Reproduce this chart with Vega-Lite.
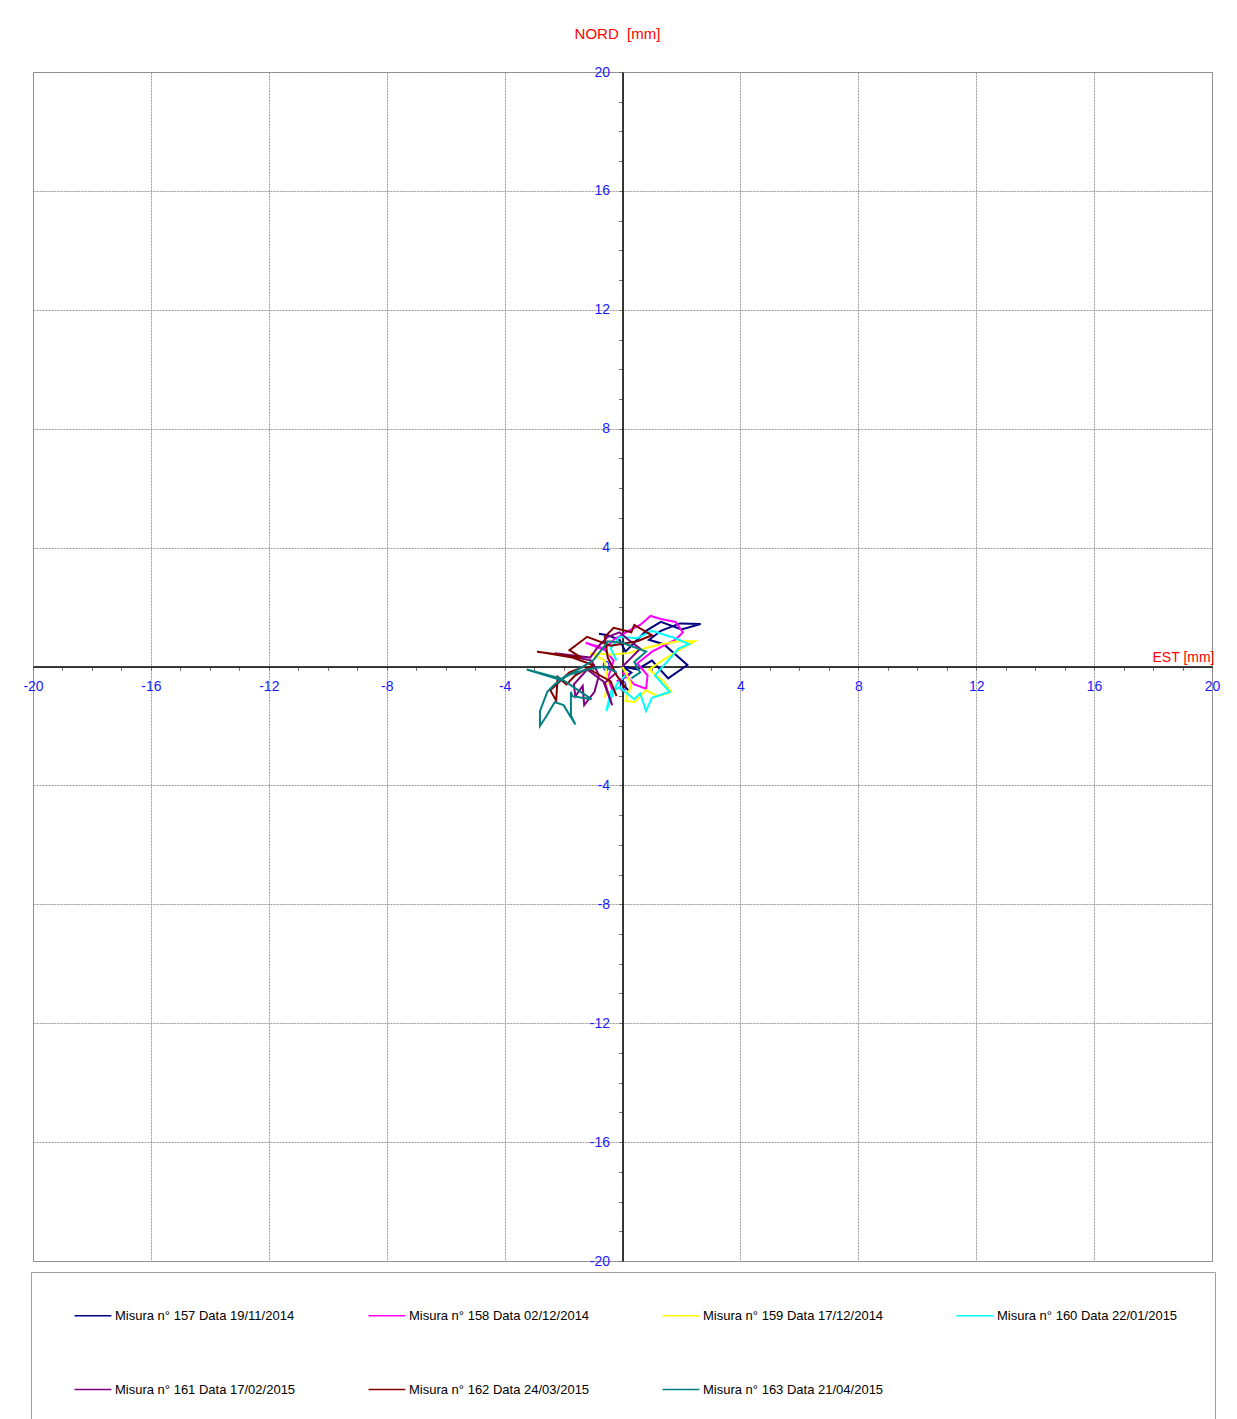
{
  "$schema": "https://vega.github.io/schema/vega-lite/v6.json",
  "autosize": "none",
  "width": 1179,
  "height": 1189,
  "padding": {"left": 33, "top": 72, "right": 25, "bottom": 158},
  "background": "white",
  "title": {"text": "NORD\u00a0 [mm]", "color": "#ff0000", "font": "Liberation Sans", "fontSize": 15, "fontWeight": "normal", "anchor": "middle", "offset": 23, "dx": -5},
  "config": {"view": {"stroke": "#808080", "strokeWidth": 1}},
  "data": {"values": [
    {"m": "Misura n° 157 Data 19/11/2014", "o": 0, "x": 0.2, "y": -0.8},
    {"m": "Misura n° 157 Data 19/11/2014", "o": 1, "x": -0.1, "y": -0.5},
    {"m": "Misura n° 157 Data 19/11/2014", "o": 2, "x": 0.3, "y": -0.2},
    {"m": "Misura n° 157 Data 19/11/2014", "o": 3, "x": 0.0, "y": 0.0},
    {"m": "Misura n° 157 Data 19/11/2014", "o": 4, "x": 0.5, "y": -0.1},
    {"m": "Misura n° 157 Data 19/11/2014", "o": 5, "x": 1.0, "y": 0.2},
    {"m": "Misura n° 157 Data 19/11/2014", "o": 6, "x": 1.55, "y": -0.4},
    {"m": "Misura n° 157 Data 19/11/2014", "o": 7, "x": 2.2, "y": 0.05},
    {"m": "Misura n° 157 Data 19/11/2014", "o": 8, "x": 1.4, "y": 0.75},
    {"m": "Misura n° 157 Data 19/11/2014", "o": 9, "x": 0.9, "y": 0.9},
    {"m": "Misura n° 157 Data 19/11/2014", "o": 10, "x": 1.3, "y": 1.2},
    {"m": "Misura n° 157 Data 19/11/2014", "o": 11, "x": 1.95, "y": 1.45},
    {"m": "Misura n° 157 Data 19/11/2014", "o": 12, "x": 2.65, "y": 1.43},
    {"m": "Misura n° 157 Data 19/11/2014", "o": 13, "x": 2.0, "y": 1.25},
    {"m": "Misura n° 157 Data 19/11/2014", "o": 14, "x": 1.3, "y": 1.5},
    {"m": "Misura n° 157 Data 19/11/2014", "o": 15, "x": 0.8, "y": 1.2},
    {"m": "Misura n° 157 Data 19/11/2014", "o": 16, "x": 0.45, "y": 0.85},
    {"m": "Misura n° 157 Data 19/11/2014", "o": 17, "x": 0.1, "y": 0.5},
    {"m": "Misura n° 157 Data 19/11/2014", "o": 18, "x": -0.1, "y": 0.9},
    {"m": "Misura n° 157 Data 19/11/2014", "o": 19, "x": -0.5, "y": 1.05},
    {"m": "Misura n° 157 Data 19/11/2014", "o": 20, "x": -0.8, "y": 1.1},

    {"m": "Misura n° 158 Data 02/12/2014", "o": 0, "x": -0.2, "y": -0.5},
    {"m": "Misura n° 158 Data 02/12/2014", "o": 1, "x": 0.2, "y": -0.3},
    {"m": "Misura n° 158 Data 02/12/2014", "o": 2, "x": 0.0, "y": -0.2},
    {"m": "Misura n° 158 Data 02/12/2014", "o": 3, "x": 0.4, "y": -0.6},
    {"m": "Misura n° 158 Data 02/12/2014", "o": 4, "x": 0.8, "y": -0.75},
    {"m": "Misura n° 158 Data 02/12/2014", "o": 5, "x": 0.85, "y": -0.3},
    {"m": "Misura n° 158 Data 02/12/2014", "o": 6, "x": 0.5, "y": 0.1},
    {"m": "Misura n° 158 Data 02/12/2014", "o": 7, "x": 1.0, "y": 0.5},
    {"m": "Misura n° 158 Data 02/12/2014", "o": 8, "x": 1.8, "y": 0.9},
    {"m": "Misura n° 158 Data 02/12/2014", "o": 9, "x": 2.05, "y": 1.15},
    {"m": "Misura n° 158 Data 02/12/2014", "o": 10, "x": 1.8, "y": 1.5},
    {"m": "Misura n° 158 Data 02/12/2014", "o": 11, "x": 1.3, "y": 1.6},
    {"m": "Misura n° 158 Data 02/12/2014", "o": 12, "x": 0.95, "y": 1.7},
    {"m": "Misura n° 158 Data 02/12/2014", "o": 13, "x": 0.6, "y": 1.4},
    {"m": "Misura n° 158 Data 02/12/2014", "o": 14, "x": 0.2, "y": 1.2},
    {"m": "Misura n° 158 Data 02/12/2014", "o": 15, "x": -0.3, "y": 0.9},
    {"m": "Misura n° 158 Data 02/12/2014", "o": 16, "x": -0.6, "y": 0.6},
    {"m": "Misura n° 158 Data 02/12/2014", "o": 17, "x": -1.25, "y": 0.8},
    {"m": "Misura n° 158 Data 02/12/2014", "o": 18, "x": -0.6, "y": 0.55},
    {"m": "Misura n° 158 Data 02/12/2014", "o": 19, "x": -0.3, "y": 0.2},
    {"m": "Misura n° 158 Data 02/12/2014", "o": 20, "x": -0.5, "y": -0.4},
    {"m": "Misura n° 158 Data 02/12/2014", "o": 21, "x": -0.3, "y": -0.9},

    {"m": "Misura n° 159 Data 17/12/2014", "o": 0, "x": 0.0, "y": 0.0},
    {"m": "Misura n° 159 Data 17/12/2014", "o": 1, "x": 0.3, "y": -0.6},
    {"m": "Misura n° 159 Data 17/12/2014", "o": 2, "x": 0.1, "y": -1.15},
    {"m": "Misura n° 159 Data 17/12/2014", "o": 3, "x": 0.4, "y": -1.2},
    {"m": "Misura n° 159 Data 17/12/2014", "o": 4, "x": 0.8, "y": -0.8},
    {"m": "Misura n° 159 Data 17/12/2014", "o": 5, "x": 1.2, "y": -1.0},
    {"m": "Misura n° 159 Data 17/12/2014", "o": 6, "x": 1.65, "y": -0.85},
    {"m": "Misura n° 159 Data 17/12/2014", "o": 7, "x": 1.4, "y": -0.5},
    {"m": "Misura n° 159 Data 17/12/2014", "o": 8, "x": 0.9, "y": -0.1},
    {"m": "Misura n° 159 Data 17/12/2014", "o": 9, "x": 1.5, "y": 0.3},
    {"m": "Misura n° 159 Data 17/12/2014", "o": 10, "x": 2.0, "y": 0.6},
    {"m": "Misura n° 159 Data 17/12/2014", "o": 11, "x": 2.45, "y": 0.85},
    {"m": "Misura n° 159 Data 17/12/2014", "o": 12, "x": 1.9, "y": 0.85},
    {"m": "Misura n° 159 Data 17/12/2014", "o": 13, "x": 1.3, "y": 0.75},
    {"m": "Misura n° 159 Data 17/12/2014", "o": 14, "x": 0.7, "y": 0.6},
    {"m": "Misura n° 159 Data 17/12/2014", "o": 15, "x": 0.2, "y": 0.45},
    {"m": "Misura n° 159 Data 17/12/2014", "o": 16, "x": -0.4, "y": 0.4},
    {"m": "Misura n° 159 Data 17/12/2014", "o": 17, "x": -1.1, "y": 0.45},
    {"m": "Misura n° 159 Data 17/12/2014", "o": 18, "x": -0.6, "y": 0.2},
    {"m": "Misura n° 159 Data 17/12/2014", "o": 19, "x": -0.5, "y": -0.5},
    {"m": "Misura n° 159 Data 17/12/2014", "o": 20, "x": -0.6, "y": -1.05},

    {"m": "Misura n° 160 Data 22/01/2015", "o": 0, "x": 0.1, "y": -0.3},
    {"m": "Misura n° 160 Data 22/01/2015", "o": 1, "x": -0.2, "y": -0.6},
    {"m": "Misura n° 160 Data 22/01/2015", "o": 2, "x": -0.55, "y": -1.5},
    {"m": "Misura n° 160 Data 22/01/2015", "o": 3, "x": -0.4, "y": -0.85},
    {"m": "Misura n° 160 Data 22/01/2015", "o": 4, "x": -0.1, "y": -0.7},
    {"m": "Misura n° 160 Data 22/01/2015", "o": 5, "x": 0.4, "y": -1.1},
    {"m": "Misura n° 160 Data 22/01/2015", "o": 6, "x": 0.6, "y": -0.9},
    {"m": "Misura n° 160 Data 22/01/2015", "o": 7, "x": 0.8, "y": -1.5},
    {"m": "Misura n° 160 Data 22/01/2015", "o": 8, "x": 1.0, "y": -1.05},
    {"m": "Misura n° 160 Data 22/01/2015", "o": 9, "x": 1.6, "y": -0.85},
    {"m": "Misura n° 160 Data 22/01/2015", "o": 10, "x": 1.1, "y": -0.3},
    {"m": "Misura n° 160 Data 22/01/2015", "o": 11, "x": 1.5, "y": 0.15},
    {"m": "Misura n° 160 Data 22/01/2015", "o": 12, "x": 1.9, "y": 0.6},
    {"m": "Misura n° 160 Data 22/01/2015", "o": 13, "x": 2.25, "y": 0.75},
    {"m": "Misura n° 160 Data 22/01/2015", "o": 14, "x": 1.8, "y": 0.95},
    {"m": "Misura n° 160 Data 22/01/2015", "o": 15, "x": 1.0, "y": 1.2},
    {"m": "Misura n° 160 Data 22/01/2015", "o": 16, "x": 0.5, "y": 0.95},
    {"m": "Misura n° 160 Data 22/01/2015", "o": 17, "x": -0.1, "y": 1.0},
    {"m": "Misura n° 160 Data 22/01/2015", "o": 18, "x": -0.4, "y": 0.6},
    {"m": "Misura n° 160 Data 22/01/2015", "o": 19, "x": -0.2, "y": 0.2},

    {"m": "Misura n° 161 Data 17/02/2015", "o": 0, "x": 0.0, "y": 0.0},
    {"m": "Misura n° 161 Data 17/02/2015", "o": 1, "x": 0.3, "y": 0.3},
    {"m": "Misura n° 161 Data 17/02/2015", "o": 2, "x": 0.6, "y": 0.6},
    {"m": "Misura n° 161 Data 17/02/2015", "o": 3, "x": 0.2, "y": 0.9},
    {"m": "Misura n° 161 Data 17/02/2015", "o": 4, "x": -0.1, "y": 1.15},
    {"m": "Misura n° 161 Data 17/02/2015", "o": 5, "x": -0.5, "y": 1.0},
    {"m": "Misura n° 161 Data 17/02/2015", "o": 6, "x": -0.8, "y": 0.7},
    {"m": "Misura n° 161 Data 17/02/2015", "o": 7, "x": -1.1, "y": 0.3},
    {"m": "Misura n° 161 Data 17/02/2015", "o": 8, "x": -2.3, "y": 0.45},
    {"m": "Misura n° 161 Data 17/02/2015", "o": 9, "x": -1.05, "y": 0.2},
    {"m": "Misura n° 161 Data 17/02/2015", "o": 10, "x": -0.8, "y": -0.3},
    {"m": "Misura n° 161 Data 17/02/2015", "o": 11, "x": -0.95, "y": -0.85},
    {"m": "Misura n° 161 Data 17/02/2015", "o": 12, "x": -1.3, "y": -1.3},
    {"m": "Misura n° 161 Data 17/02/2015", "o": 13, "x": -1.35, "y": -0.65},
    {"m": "Misura n° 161 Data 17/02/2015", "o": 14, "x": -1.6, "y": -1.0},
    {"m": "Misura n° 161 Data 17/02/2015", "o": 15, "x": -1.65, "y": -0.6},
    {"m": "Misura n° 161 Data 17/02/2015", "o": 16, "x": -1.2, "y": -0.1},
    {"m": "Misura n° 161 Data 17/02/2015", "o": 17, "x": -0.65, "y": -0.5},
    {"m": "Misura n° 161 Data 17/02/2015", "o": 18, "x": -0.35, "y": -1.3},
    {"m": "Misura n° 161 Data 17/02/2015", "o": 19, "x": -0.6, "y": -0.55},
    {"m": "Misura n° 161 Data 17/02/2015", "o": 20, "x": -0.2, "y": -0.2},

    {"m": "Misura n° 162 Data 24/03/2015", "o": 0, "x": 0.1, "y": -0.7},
    {"m": "Misura n° 162 Data 24/03/2015", "o": 1, "x": -0.2, "y": -0.3},
    {"m": "Misura n° 162 Data 24/03/2015", "o": 2, "x": -0.5, "y": 0.3},
    {"m": "Misura n° 162 Data 24/03/2015", "o": 3, "x": -0.6, "y": 1.0},
    {"m": "Misura n° 162 Data 24/03/2015", "o": 4, "x": -0.3, "y": 1.3},
    {"m": "Misura n° 162 Data 24/03/2015", "o": 5, "x": 0.3, "y": 1.15},
    {"m": "Misura n° 162 Data 24/03/2015", "o": 6, "x": 0.4, "y": 1.4},
    {"m": "Misura n° 162 Data 24/03/2015", "o": 7, "x": 1.0, "y": 1.05},
    {"m": "Misura n° 162 Data 24/03/2015", "o": 8, "x": 0.5, "y": 0.85},
    {"m": "Misura n° 162 Data 24/03/2015", "o": 9, "x": -0.4, "y": 0.7},
    {"m": "Misura n° 162 Data 24/03/2015", "o": 10, "x": -1.2, "y": 1.0},
    {"m": "Misura n° 162 Data 24/03/2015", "o": 11, "x": -1.8, "y": 0.55},
    {"m": "Misura n° 162 Data 24/03/2015", "o": 12, "x": -1.4, "y": 0.3},
    {"m": "Misura n° 162 Data 24/03/2015", "o": 13, "x": -2.9, "y": 0.5},
    {"m": "Misura n° 162 Data 24/03/2015", "o": 14, "x": -1.7, "y": 0.3},
    {"m": "Misura n° 162 Data 24/03/2015", "o": 15, "x": -1.0, "y": 0.05},
    {"m": "Misura n° 162 Data 24/03/2015", "o": 16, "x": -1.6, "y": -0.3},
    {"m": "Misura n° 162 Data 24/03/2015", "o": 17, "x": -1.9, "y": -0.6},
    {"m": "Misura n° 162 Data 24/03/2015", "o": 18, "x": -2.2, "y": -0.35},
    {"m": "Misura n° 162 Data 24/03/2015", "o": 19, "x": -2.25, "y": -1.15},
    {"m": "Misura n° 162 Data 24/03/2015", "o": 20, "x": -2.45, "y": -0.8},
    {"m": "Misura n° 162 Data 24/03/2015", "o": 21, "x": -1.8, "y": -0.2},
    {"m": "Misura n° 162 Data 24/03/2015", "o": 22, "x": -1.3, "y": 0.0},
    {"m": "Misura n° 162 Data 24/03/2015", "o": 23, "x": -0.4, "y": -0.5},
    {"m": "Misura n° 162 Data 24/03/2015", "o": 24, "x": -0.2, "y": -1.0},

    {"m": "Misura n° 163 Data 21/04/2015", "o": 0, "x": 0.3, "y": -0.4},
    {"m": "Misura n° 163 Data 21/04/2015", "o": 1, "x": 0.6, "y": -0.2},
    {"m": "Misura n° 163 Data 21/04/2015", "o": 2, "x": 0.4, "y": 0.15},
    {"m": "Misura n° 163 Data 21/04/2015", "o": 3, "x": 0.8, "y": 0.5},
    {"m": "Misura n° 163 Data 21/04/2015", "o": 4, "x": 0.0, "y": 0.8},
    {"m": "Misura n° 163 Data 21/04/2015", "o": 5, "x": -0.5, "y": 0.85},
    {"m": "Misura n° 163 Data 21/04/2015", "o": 6, "x": -0.6, "y": 0.7},
    {"m": "Misura n° 163 Data 21/04/2015", "o": 7, "x": -1.0, "y": 0.2},
    {"m": "Misura n° 163 Data 21/04/2015", "o": 8, "x": -1.5, "y": -0.1},
    {"m": "Misura n° 163 Data 21/04/2015", "o": 9, "x": -2.1, "y": -0.45},
    {"m": "Misura n° 163 Data 21/04/2015", "o": 10, "x": -3.25, "y": -0.1},
    {"m": "Misura n° 163 Data 21/04/2015", "o": 11, "x": -2.1, "y": -0.4},
    {"m": "Misura n° 163 Data 21/04/2015", "o": 12, "x": -1.05, "y": -1.1},
    {"m": "Misura n° 163 Data 21/04/2015", "o": 13, "x": -1.7, "y": -1.0},
    {"m": "Misura n° 163 Data 21/04/2015", "o": 14, "x": -1.75, "y": -0.85},
    {"m": "Misura n° 163 Data 21/04/2015", "o": 15, "x": -1.75, "y": -1.65},
    {"m": "Misura n° 163 Data 21/04/2015", "o": 16, "x": -1.6, "y": -1.95},
    {"m": "Misura n° 163 Data 21/04/2015", "o": 17, "x": -2.0, "y": -1.3},
    {"m": "Misura n° 163 Data 21/04/2015", "o": 18, "x": -2.3, "y": -1.2},
    {"m": "Misura n° 163 Data 21/04/2015", "o": 19, "x": -2.6, "y": -1.7},
    {"m": "Misura n° 163 Data 21/04/2015", "o": 20, "x": -2.8, "y": -2.0},
    {"m": "Misura n° 163 Data 21/04/2015", "o": 21, "x": -2.8, "y": -1.5},
    {"m": "Misura n° 163 Data 21/04/2015", "o": 22, "x": -2.55, "y": -0.85},
    {"m": "Misura n° 163 Data 21/04/2015", "o": 23, "x": -2.3, "y": -0.6},
    {"m": "Misura n° 163 Data 21/04/2015", "o": 24, "x": -1.9, "y": -0.3},
    {"m": "Misura n° 163 Data 21/04/2015", "o": 25, "x": -1.2, "y": -0.1},
    {"m": "Misura n° 163 Data 21/04/2015", "o": 26, "x": -0.6, "y": 0.0},
    {"m": "Misura n° 163 Data 21/04/2015", "o": 27, "x": -0.2, "y": -0.2}
  ]},
  "mark": {"type": "line", "strokeWidth": 2, "clip": true},
  "encoding": {
    "x": {
      "field": "x", "type": "quantitative",
      "scale": {"domain": [-20, 20], "nice": false, "zero": false},
      "axis": {
        "orient": "bottom", "offset": -594.5,
        "values": [-20,-19,-18,-17,-16,-15,-14,-13,-12,-11,-10,-9,-8,-7,-6,-5,-4,-3,-2,-1,0,1,2,3,4,5,6,7,8,9,10,11,12,13,14,15,16,17,18,19,20],
        "labelExpr": "datum.value % 4 === 0 ? '' + datum.value : ''",
        "labelOverlap": false, "labelBound": false, "labelFlush": false,
        "labelFont": "Liberation Sans", "labelFontSize": 14, "labelColor": "#1a1aff", "labelPadding": 9,
        "tickSize": 4, "tickColor": "#777777", "tickWidth": 1,
        "domainColor": "#000000", "domainWidth": 1.5,
        "grid": true, "gridColor": "#9a9a9a", "gridWidth": 1, "gridDash": [2, 1],
        "gridOpacity": {"condition": {"test": "datum.value % 4 === 0", "value": 1}, "value": 0},
        "title": "EST [mm]", "titleColor": "#ff0000", "titleFont": "Liberation Sans", "titleFontSize": 14, "titleFontWeight": "normal",
        "titleX": 1150, "titleY": -9, "titleAlign": "center", "titleBaseline": "middle", "titleAnchor": null
      }
    },
    "y": {
      "field": "y", "type": "quantitative",
      "scale": {"domain": [-20, 20], "nice": false, "zero": false},
      "axis": {
        "orient": "left", "offset": -589.5,
        "values": [-20,-19,-18,-17,-16,-15,-14,-13,-12,-11,-10,-9,-8,-7,-6,-5,-4,-3,-2,-1,0,1,2,3,4,5,6,7,8,9,10,11,12,13,14,15,16,17,18,19,20],
        "labelExpr": "datum.value % 4 === 0 ? '' + datum.value : ''",
        "labelOverlap": false, "labelBound": false, "labelFlush": false,
        "labelFont": "Liberation Sans", "labelFontSize": 14, "labelColor": "#1a1aff", "labelPadding": 9,
        "tickSize": 4, "tickColor": "#777777", "tickWidth": 1,
        "domainColor": "#000000", "domainWidth": 1.5,
        "grid": true, "gridColor": "#9a9a9a", "gridWidth": 1, "gridDash": [2, 1],
        "gridOpacity": {"condition": {"test": "datum.value % 4 === 0", "value": 1}, "value": 0},
        "title": null
      }
    },
    "order": {"field": "o", "type": "quantitative"},
    "color": {
      "field": "m", "type": "nominal",
      "scale": {
        "domain": ["Misura n° 157 Data 19/11/2014", "Misura n° 158 Data 02/12/2014", "Misura n° 159 Data 17/12/2014", "Misura n° 160 Data 22/01/2015", "Misura n° 161 Data 17/02/2015", "Misura n° 162 Data 24/03/2015", "Misura n° 163 Data 21/04/2015"],
        "range": ["#000080", "#ff00ff", "#ffff00", "#00ffff", "#800080", "#800000", "#008080"]
      },
      "legend": {
        "orient": "none", "legendX": -2, "legendY": 1200, "columns": 4, "direction": "horizontal",
        "title": null, "symbolType": "M0,0H8", "symbolSize": 85, "symbolStrokeWidth": 1.6,
        "labelFont": "Liberation Sans", "labelFontSize": 13, "labelColor": "#000000", "labelOffset": 34, "labelLimit": 300,
        "columnPadding": 66, "rowPadding": 60, "padding": 37, "gridAlign": "all",
        "strokeColor": "#a0a0a0", "fillColor": "#ffffff"
      }
    }
  }
}
